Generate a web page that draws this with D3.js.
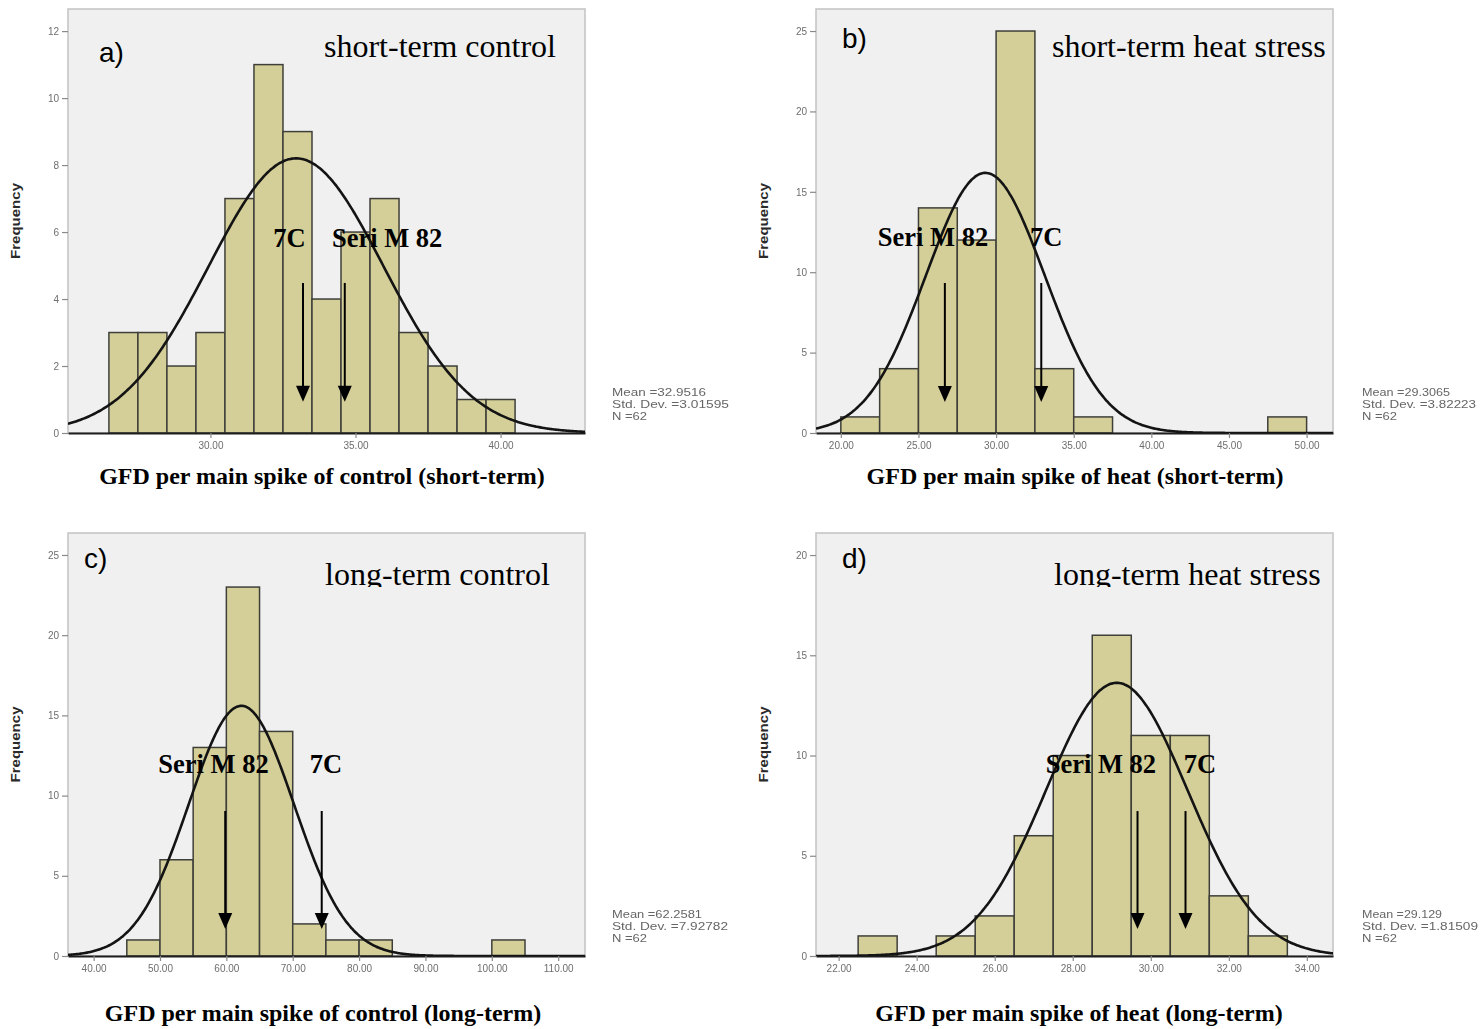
<!DOCTYPE html>
<html>
<head>
<meta charset="utf-8">
<script src="https://cdn.jsdelivr.net/npm/d3@7"></script>
<style>
  body { margin: 0; background: #fff; }
  svg { display: block; }
</style>
</head>
<body>
<svg id="chart" width="1480" height="1029"></svg>
<script>
// ---- data -------------------------------------------------------------
const panelLetters = ["a)", "b)", "c)", "d)"];
const panelTitles = ["short-term control", "short-term heat stress", "long-term control", "long-term heat stress"];
const axisTitles = [
  "GFD per main spike of control (short-term)",
  "GFD per main spike of heat (short-term)",
  "GFD per main spike of control (long-term)",
  "GFD per main spike of heat (long-term)"
];

// histogram bins: lower edge of first bin, bin width, counts per bin
const binStarts = [26.5, 20, 45, 22.5];
const binWidths = [1, 2.5, 5, 1];
const countsA = [3, 3, 2, 3, 7, 11, 9, 4, 6, 7, 3, 2, 1, 1];
const countsB = [1, 4, 14, 12, 25, 4, 1, 0, 0, 0, 0, 1];
const countsC = [1, 6, 13, 23, 14, 2, 1, 1, 0, 0, 0, 1];
const countsD = [1, 0, 1, 2, 6, 10, 16, 11, 11, 3, 1];
const counts = [countsA, countsB, countsC, countsD];

// fitted normal curve parameters
const means = [32.9516, 29.3065, 62.2581, 29.129];
const stdDevs = [3.01595, 3.82223, 7.92782, 1.81509];
const nValues = [62, 62, 62, 62];
const meanLabels = ["32.9516", "29.3065", "62.2581", "29.129"];
const sdLabels = ["3.01595", "3.82223", "7.92782", "1.81509"];

// axis extents and ticks
const xDomains = [[25.09, 42.91], [18.4, 51.7], [36.14, 114.04], [21.42, 34.67]];
const yMaxes = [12.66, 26.37, 26.37, 21.1];
const xTicksA = [30, 35, 40];
const xTicksB = [20, 25, 30, 35, 40, 45, 50];
const xTicksC = [40, 50, 60, 70, 80, 90, 100, 110];
const xTicksD = [22, 24, 26, 28, 30, 32, 34];
const xTicks = [xTicksA, xTicksB, xTicksC, xTicksD];
const yTicksA = [0, 2, 4, 6, 8, 10, 12];
const yTicksB = [0, 5, 10, 15, 20, 25];
const yTicksC = [0, 5, 10, 15, 20, 25];
const yTicksD = [0, 5, 10, 15, 20];
const yTicks = [yTicksA, yTicksB, yTicksC, yTicksD];

// cultivar markers: value on the x axis, arrow start/end (frequency), label position
const cultivars = ["Seri M 82", "7C"];
const seriValues = [34.63, 26.70, 59.83, 29.66];
const c7Values = [33.19, 32.91, 74.37, 30.89];
const arrowTopFreq = [4.48, 9.33, 9.04, 7.23];
const arrowTipFreq = [0.93, 1.93, 1.68, 1.35];
const seriLabelX = [36.09, 25.94, 58.06, 28.72];
const c7LabelX = [32.72, 33.22, 75.0, 31.26];
const labelFreq = [5.55, 11.63, 11.41, 9.13];

// ---- layout -------------------------------------------------------------
const frames = [
  { x0: 68, y0: 9, x1: 585, y1: 433 },
  { x0: 816, y0: 9, x1: 1333, y1: 433 },
  { x0: 68, y0: 533, x1: 585, y1: 956 },
  { x0: 816, y0: 533, x1: 1333, y1: 956 }
];
const letterPos = [[99, 62], [842, 48], [84, 568], [842, 568]];
const titlePos = [[324, 57], [1052, 57], [325, 585], [1054, 585]];
const titleClip = [null, null, 587, 587];
const axisTitlePos = [[322, 484], [1075, 484], [323, 1021], [1079, 1021]];
const statsPos = [[612, 396], [1362, 396], [612, 918], [1362, 918]];
const statsWidths = [[94, 117, 35], [88, 114, 35], [90, 116, 35], [80, 116, 35]];

const serif = "'Liberation Serif', 'Times New Roman', serif";
const sans = "'Liberation Sans', Arial, sans-serif";
const barFill = "#d4cf98";

const svg = d3.select("#chart");
const defs = svg.append("defs");
defs.append("filter").attr("id", "soft")
  .attr("x", "-10%").attr("y", "-30%").attr("width", "120%").attr("height", "160%")
  .append("feGaussianBlur").attr("stdDeviation", 0.45);

frames.forEach((f, i) => {
  const g = svg.append("g");
  const x = d3.scaleLinear().domain(xDomains[i]).range([f.x0, f.x1]);
  const y = d3.scaleLinear().domain([0, yMaxes[i]]).range([f.y1, f.y0]);

  defs.append("clipPath").attr("id", "plot" + i)
    .append("rect").attr("x", f.x0).attr("y", f.y0)
    .attr("width", f.x1 - f.x0).attr("height", f.y1 - f.y0);

  // plot background
  g.append("rect")
    .attr("x", f.x0).attr("y", f.y0)
    .attr("width", f.x1 - f.x0).attr("height", f.y1 - f.y0)
    .attr("fill", "#f0f0f0").attr("stroke", "#c6c6c6").attr("stroke-width", 1.6);

  // y axis
  const ya = g.append("g").attr("transform", `translate(${f.x0},0)`)
    .call(d3.axisLeft(y).tickValues(yTicks[i]).tickFormat(d3.format("d"))
      .tickSize(6).tickSizeOuter(0).tickPadding(3));
  ya.select(".domain").remove();
  ya.selectAll(".tick line").attr("stroke", "#8a8a8a").attr("stroke-width", 1.2);
  ya.selectAll(".tick text").attr("fill", "#6e6e6e").attr("font-size", 10)
    .attr("font-family", sans).attr("filter", "url(#soft)");

  // histogram bars
  const bins = counts[i].map((c, k) => ({
    lo: binStarts[i] + k * binWidths[i],
    hi: binStarts[i] + (k + 1) * binWidths[i],
    c
  })).filter(d => d.c > 0);
  g.append("g").selectAll("rect").data(bins).join("rect")
    .attr("x", d => x(d.lo)).attr("y", d => y(d.c))
    .attr("width", d => x(d.hi) - x(d.lo)).attr("height", d => y(0) - y(d.c))
    .attr("fill", barFill).attr("stroke", "#3f3f3a").attr("stroke-width", 1.5);

  // x axis
  const xa = g.append("g").attr("transform", `translate(0,${f.y1})`)
    .call(d3.axisBottom(x).tickValues(xTicks[i]).tickFormat(d3.format(".2f"))
      .tickSize(5).tickSizeOuter(0).tickPadding(4));
  xa.select(".domain").attr("stroke", "#1e1e1e").attr("stroke-width", 2.2);
  xa.selectAll(".tick line").attr("stroke", "#8a8a8a").attr("stroke-width", 1.2);
  xa.selectAll(".tick text").attr("fill", "#6e6e6e").attr("font-size", 10)
    .attr("font-family", sans).attr("filter", "url(#soft)");

  // fitted normal curve
  const m = means[i], s = stdDevs[i], scaleN = nValues[i] * binWidths[i];
  const [d0, d1] = xDomains[i];
  const pts = d3.range(0, 301).map(k => {
    const v = d0 + (d1 - d0) * k / 300;
    return [v, scaleN * Math.exp(-((v - m) ** 2) / (2 * s * s)) / (s * Math.sqrt(2 * Math.PI))];
  });
  g.append("path").datum(pts)
    .attr("clip-path", `url(#plot${i})`)
    .attr("d", d3.line().x(d => x(d[0])).y(d => y(d[1])).curve(d3.curveBasis))
    .attr("fill", "none").attr("stroke", "#141414").attr("stroke-width", 2.6);

  // cultivar arrows
  [seriValues[i], c7Values[i]].forEach(v => {
    const ax = x(v), yTop = y(arrowTopFreq[i]), yTip = y(arrowTipFreq[i]);
    g.append("line").attr("x1", ax).attr("x2", ax).attr("y1", yTop).attr("y2", yTip - 12)
      .attr("stroke", "#000").attr("stroke-width", 2);
    g.append("path")
      .attr("d", `M${ax - 7},${yTip - 16} L${ax + 7},${yTip - 16} L${ax},${yTip} Z`)
      .attr("fill", "#000");
  });

  // cultivar labels
  [[cultivars[0], seriLabelX[i]], [cultivars[1], c7LabelX[i]]].forEach(([t, v]) => {
    g.append("text").attr("x", x(v)).attr("y", y(labelFreq[i]))
      .attr("text-anchor", "middle").attr("font-family", serif)
      .attr("font-weight", "bold").attr("font-size", 26.5).attr("fill", "#000")
      .text(t);
  });

  // panel letter
  g.append("text").attr("x", letterPos[i][0]).attr("y", letterPos[i][1])
    .attr("font-family", sans).attr("font-size", 28).attr("fill", "#000")
    .text(panelLetters[i]);

  // panel title
  const tt = g.append("text").attr("x", titlePos[i][0]).attr("y", titlePos[i][1])
    .attr("font-family", serif).attr("font-size", 32).attr("fill", "#000")
    .text(panelTitles[i]);
  if (titleClip[i] !== null) {
    defs.append("clipPath").attr("id", "title" + i)
      .append("rect").attr("x", f.x0).attr("y", f.y0)
      .attr("width", f.x1 - f.x0).attr("height", titleClip[i] - f.y0);
    tt.attr("clip-path", `url(#title${i})`);
  }

  // y axis title
  g.append("text")
    .attr("transform", `translate(${f.x0 - 48},${(f.y0 + f.y1) / 2}) rotate(-90)`)
    .attr("text-anchor", "middle").attr("font-family", sans)
    .attr("font-weight", "bold").attr("font-size", 13.5).attr("fill", "#2a2a2a")
    .attr("textLength", 76).attr("lengthAdjust", "spacingAndGlyphs")
    .text("Frequency");

  // x axis title
  g.append("text").attr("x", axisTitlePos[i][0]).attr("y", axisTitlePos[i][1])
    .attr("text-anchor", "middle").attr("font-family", serif)
    .attr("font-weight", "bold").attr("font-size", 24).attr("fill", "#000")
    .text(axisTitles[i]);

  // summary statistics
  const lines = ["Mean =" + meanLabels[i], "Std. Dev. =" + sdLabels[i], "N =" + nValues[i]];
  lines.forEach((t, k) => {
    g.append("text").attr("x", statsPos[i][0]).attr("y", statsPos[i][1] + k * 12)
      .attr("font-family", sans).attr("font-size", 11).attr("fill", "#666")
      .attr("textLength", statsWidths[i][k]).attr("lengthAdjust", "spacingAndGlyphs")
      .attr("filter", "url(#soft)")
      .text(t);
  });
});
</script>
</body>
</html>
